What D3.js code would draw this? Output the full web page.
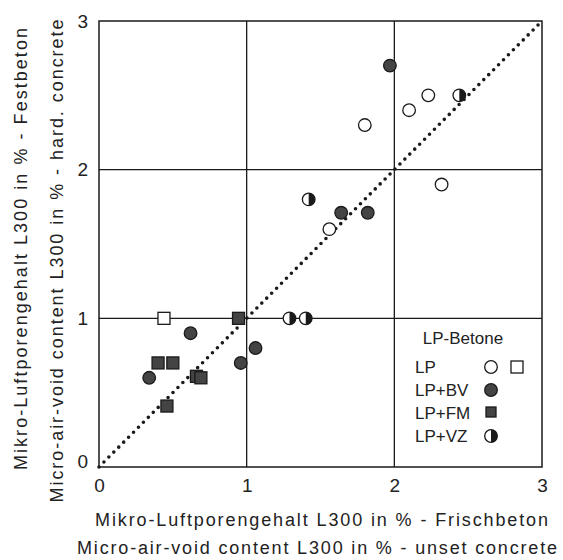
<!DOCTYPE html>
<html>
<head>
<meta charset="utf-8">
<script src="https://cdn.jsdelivr.net/npm/d3@7"></script>
<style>
  body { margin: 0; background: #fff; }
  svg { font-family: "Liberation Sans", Arial, sans-serif; }
</style>
</head>
<body>
<div id="chart"></div>
<script>
var width = 563,
    height = 560;

// values: [frisch, fest]
var lpCircles = [[1.80, 2.30], [2.10, 2.40], [2.23, 2.50], [2.32, 1.90], [1.56, 1.60]];
var lpSquares = [[0.44, 1.00]];
var bvCircles = [[1.97, 2.70], [1.64, 1.71], [1.82, 1.71], [0.62, 0.90], [1.06, 0.80], [0.96, 0.70], [0.34, 0.60]];
var fmSquares = [[0.945, 1.00], [0.40, 0.70], [0.50, 0.70], [0.66, 0.61], [0.69, 0.60], [0.46, 0.41]];
var vzCircles = [[2.44, 2.50], [1.42, 1.80], [1.29, 1.00], [1.40, 1.00]];

var ticks = [0, 1, 2, 3];
var legendTitle = "LP-Betone";
var legendLabels = ["LP", "LP+BV", "LP+FM", "LP+VZ"];
var xTitle = ["Mikro-Luftporengehalt L300 in % - Frischbeton", "Micro-air-void content L300 in % - unset concrete"];
var yTitle = ["Mikro-Luftporengehalt L300 in % - Festbeton", "Micro-air-void content L300 in % - hard. concrete"];

var ink = "#1a1a1a";

var svg = d3.select("#chart").append("svg")
    .attr("width", width)
    .attr("height", height);

var x = d3.scaleLinear().domain([0, 3]).range([99, 542]);
var y = d3.scaleLinear().domain([0, 3]).range([467, 21]);

var r = 6.3, sq = 12;

// grid
svg.append("g")
    .selectAll("line")
    .data([1, 2])
    .enter().append("line")
    .attr("x1", d => x(d)).attr("x2", d => x(d))
    .attr("y1", y(0)).attr("y2", y(3))
    .attr("stroke", ink).attr("stroke-width", 1.3);

svg.append("g")
    .selectAll("line")
    .data([1, 2])
    .enter().append("line")
    .attr("y1", d => y(d)).attr("y2", d => y(d))
    .attr("x1", x(0)).attr("x2", x(3))
    .attr("stroke", ink).attr("stroke-width", 1.3);

svg.append("rect")
    .attr("x", x(0)).attr("y", y(3))
    .attr("width", x(3) - x(0)).attr("height", y(0) - y(3))
    .attr("fill", "none").attr("stroke", ink).attr("stroke-width", 1.5);

// tick labels
var xAxis = svg.append("g")
    .attr("transform", "translate(0," + (y(0) + 8) + ")")
    .call(d3.axisBottom(x).tickValues(ticks).tickSize(0).tickFormat(d3.format("d")));
xAxis.select(".domain").remove();
xAxis.selectAll("text")
    .attr("font-size", 19).attr("font-family", "Liberation Sans, Arial, sans-serif")
    .attr("fill", "#222").attr("dy", "0.75em");

var yAxis = svg.append("g")
    .attr("transform", "translate(" + (x(0) - 8) + ",0)")
    .call(d3.axisLeft(y).tickValues(ticks).tickSize(0).tickFormat(d3.format("d")));
yAxis.select(".domain").remove();
yAxis.selectAll("text")
    .attr("font-size", 19).attr("font-family", "Liberation Sans, Arial, sans-serif")
    .attr("fill", "#222")
    .attr("dy", d => d === 0 ? "0.05em" : "0.32em");

// diagonal 1:1 line
svg.append("line")
    .attr("x1", x(0)).attr("y1", y(0))
    .attr("x2", x(3)).attr("y2", y(3))
    .attr("stroke", ink)
    .attr("stroke-width", 3.6)
    .attr("stroke-linecap", "round")
    .attr("stroke-dasharray", "0,7");

// markers
function circles(data, fill) {
  svg.append("g").selectAll("circle")
    .data(data).enter().append("circle")
    .attr("cx", d => x(d[0])).attr("cy", d => y(d[1]))
    .attr("r", r)
    .attr("fill", fill).attr("stroke", ink).attr("stroke-width", 1.3);
}
function squares(data, fill) {
  svg.append("g").selectAll("rect")
    .data(data).enter().append("rect")
    .attr("x", d => x(d[0]) - sq / 2).attr("y", d => y(d[1]) - sq / 2)
    .attr("width", sq).attr("height", sq)
    .attr("fill", fill).attr("stroke", ink).attr("stroke-width", 1.3);
}
function halfCircles(data) {
  var g = svg.append("g").selectAll("g")
    .data(data).enter().append("g")
    .attr("transform", d => "translate(" + x(d[0]) + "," + y(d[1]) + ")");
  g.append("circle").attr("r", r).attr("fill", "#fff").attr("stroke", ink).attr("stroke-width", 1.3);
  g.append("path").attr("d", "M0," + (-r) + "A" + r + "," + r + " 0 0 1 0," + r + "Z").attr("fill", ink);
}

squares(fmSquares, "#444");
circles(bvCircles, "#444");
circles(lpCircles, "#fff");
squares(lpSquares, "#fff");
halfCircles(vzCircles);

// legend
var leg = svg.append("g").attr("font-size", 17).attr("fill", "#222");
leg.append("text")
    .attr("x", 463).attr("y", 338)
    .attr("text-anchor", "middle").attr("dominant-baseline", "central")
    .text(legendTitle);
leg.selectAll("text.lab")
    .data(legendLabels).enter().append("text")
    .attr("class", "lab")
    .attr("x", 415).attr("y", (d, i) => 367 + i * 23)
    .attr("dominant-baseline", "central")
    .text(d => d);

var lx = 491;
leg.append("circle").attr("cx", lx).attr("cy", 367).attr("r", r).attr("fill", "#fff").attr("stroke", ink).attr("stroke-width", 1.3);
leg.append("rect").attr("x", 517 - sq / 2).attr("y", 367 - sq / 2).attr("width", sq).attr("height", sq).attr("fill", "#fff").attr("stroke", ink).attr("stroke-width", 1.3);
leg.append("circle").attr("cx", lx).attr("cy", 390).attr("r", r).attr("fill", "#444").attr("stroke", ink).attr("stroke-width", 1.3);
leg.append("rect").attr("x", lx - sq / 2 + 1).attr("y", 413 - sq / 2).attr("width", sq - 2).attr("height", sq - 2).attr("fill", "#444").attr("stroke", ink).attr("stroke-width", 1.3);
leg.append("circle").attr("cx", lx).attr("cy", 436).attr("r", r).attr("fill", "#fff").attr("stroke", ink).attr("stroke-width", 1.3);
leg.append("path").attr("transform", "translate(" + lx + ",436)").attr("d", "M0," + (-r) + "A" + r + "," + r + " 0 0 1 0," + r + "Z").attr("fill", ink);

// axis titles
var titles = svg.append("g").attr("font-size", 18).attr("fill", "#222");
titles.append("text").attr("x", 321.5).attr("y", 520)
    .attr("text-anchor", "middle").attr("dominant-baseline", "central")
    .attr("textLength", 453).attr("lengthAdjust", "spacing")
    .text(xTitle[0]);
titles.append("text").attr("x", 317).attr("y", 548)
    .attr("text-anchor", "middle").attr("dominant-baseline", "central")
    .attr("textLength", 480).attr("lengthAdjust", "spacing")
    .text(xTitle[1]);
titles.append("text").attr("transform", "translate(21,249) rotate(-90)")
    .attr("text-anchor", "middle").attr("dominant-baseline", "central")
    .attr("textLength", 442).attr("lengthAdjust", "spacing")
    .text(yTitle[0]);
titles.append("text").attr("transform", "translate(57,261) rotate(-90)")
    .attr("text-anchor", "middle").attr("dominant-baseline", "central")
    .attr("textLength", 483).attr("lengthAdjust", "spacing")
    .text(yTitle[1]);
</script>
</body>
</html>
